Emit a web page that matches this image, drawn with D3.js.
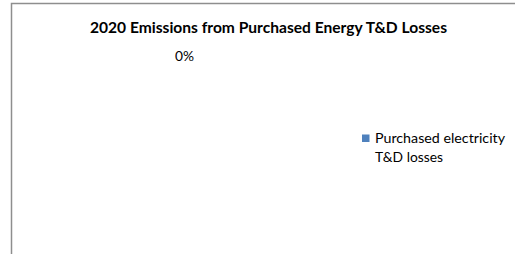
<!DOCTYPE html>
<html>
<head>
<meta charset="utf-8">
<script src="https://cdn.jsdelivr.net/npm/d3@7"></script>
<style>
  body { margin: 0; background: #fff; }
  svg { display: block; font-family: Lato, "Open Sans", sans-serif; }
</style>
</head>
<body>
<script>
// chart data
const title = "2020 Emissions from Purchased Energy T&D Losses";
const categories = ["Purchased electricity T&D losses"];
const values = [0];
const legendLines = [["Purchased electricity", "T&D losses"]];

const width = 515, height = 254;
const colors = d3.scaleOrdinal().domain(categories).range(["#4F81BD"]);

const svg = d3.select("body").append("svg")
    .attr("width", width)
    .attr("height", height);

// chart frame (cropped at right/bottom)
svg.append("rect")
    .attr("x", 11.5).attr("y", 3.5)
    .attr("width", 520).attr("height", 270)
    .attr("fill", "#fff")
    .attr("stroke", "#8e8e8e")
    .attr("stroke-width", 1.5);

svg.append("text")
    .attr("x", 268.5).attr("y", 32.5)
    .attr("text-anchor", "middle")
    .attr("font-weight", "bold")
    .attr("font-size", 15)
    .attr("textLength", 357)
    .attr("lengthAdjust", "spacingAndGlyphs")
    .attr("fill", "#000")
    .text(title);

// pie (all values are zero, so only the label shows)
const cx = 184.5, cy = 152, r = 82;
const pie = d3.pie().sort(null).value(d => d)(values);
const arc = d3.arc().innerRadius(0).outerRadius(r);
const labelArc = d3.arc().innerRadius(r + 14).outerRadius(r + 14);
const total = d3.sum(values);
const fmt = d3.format(".0%");

const g = svg.append("g").attr("transform", `translate(${cx},${cy})`);
g.selectAll("path").data(pie).enter().append("path")
    .attr("d", arc)
    .attr("fill", (d, i) => colors(categories[i]));

g.selectAll("text.lbl").data(pie).enter().append("text")
    .attr("class", "lbl")
    .attr("x", d => labelArc.centroid(d)[0])
    .attr("y", d => labelArc.centroid(d)[1])
    .attr("dy", "0.35em")
    .attr("text-anchor", "middle")
    .attr("font-size", 14)
    .attr("textLength", 19)
    .attr("lengthAdjust", "spacingAndGlyphs")
    .attr("fill", "#000")
    .text(d => fmt(total ? d.value / total : 0));

// legend
const legend = svg.append("g").attr("transform", "translate(362,134.5)");
legend.selectAll("rect").data(categories).enter().append("rect")
    .attr("width", 7.5).attr("height", 7.5)
    .attr("fill", d => colors(d));

const lt = legend.append("text")
    .attr("x", 13).attr("y", 8)
    .attr("font-size", 14)
    .attr("fill", "#000");
lt.selectAll("tspan").data(legendLines[0]).enter().append("tspan")
    .attr("x", 13)
    .attr("dy", (d, i) => i ? 19 : 0)
    .attr("textLength", (d, i) => i ? 68 : 130)
    .attr("lengthAdjust", "spacingAndGlyphs")
    .text(d => d);
</script>
</body>
</html>
